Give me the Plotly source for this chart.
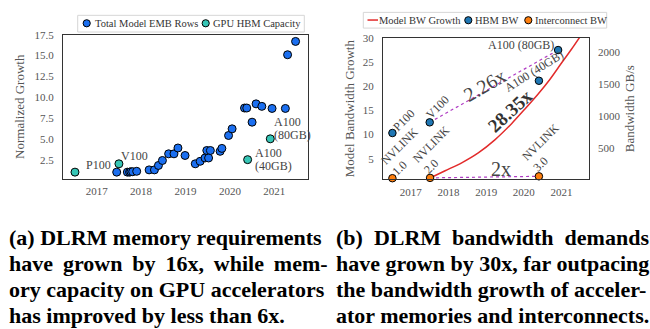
import plotly.graph_objects as go

# ---------------- data ----------------
# (a) embedding-table growth vs. GPU HBM capacity (normalized)
emb_year = [2017.45, 2017.69, 2017.74, 2017.77, 2017.81, 2017.90, 2018.18, 2018.30,
            2018.39, 2018.48, 2018.62, 2018.74, 2018.83, 2018.99, 2019.22, 2019.33,
            2019.44, 2019.48, 2019.52, 2019.56, 2019.78, 2019.82, 2019.97, 2020.05,
            2020.33, 2020.38, 2020.50, 2020.59, 2020.72, 2020.95, 2021.25, 2021.30,
            2021.48]
emb_rows = [1.0, 1.0, 1.0, 1.05, 1.05, 1.1, 1.27, 1.27,
            1.8, 2.4, 3.2, 3.2, 3.9, 3.0, 2.0, 2.3,
            2.7, 3.6, 2.7, 3.6, 3.5, 3.85, 5.4, 6.2,
            8.7, 8.7, 7.0, 9.2, 8.9, 8.65, 8.65, 15.1,
            16.7]
gpu_names = ["P100", "V100", "A100 (40GB)", "A100 (80GB)"]
gpu_year = [2016.51, 2017.50, 2020.40, 2020.91]
hbm_capacity = [1.0, 2.0, 2.5, 5.0]

# (b) bandwidth growth
model_year = [2017.51, 2017.91, 2018.35, 2018.79, 2019.23, 2019.68, 2020.03,
              2020.38, 2020.69, 2021.00, 2021.26, 2021.48]
model_bw_growth = [1.0, 2.5, 4.15, 6.2, 8.9, 12.3, 15.3,
                   18.4, 21.4, 24.8, 27.6, 30.1]
hbm_bw = [732, 900, 1555, 2039]            # GB/s, same GPUs as above
nvlink_names = ["NVLINK<br>1.0", "NVLINK<br>2.0", "NVLINK<br>3.0"]
nvlink_year = [2016.51, 2017.51, 2020.40]
nvlink_bw = [20, 25, 50]                   # GB/s per link

year_ticks = [2017, 2018, 2019, 2020, 2021]
growth_ticks = [2.5, 5.0, 7.5, 10.0, 12.5, 15.0, 17.5]
model_ticks = [5, 10, 15, 20, 25, 30]
bw_ticks = [500, 1000, 1500, 2000]

# ---------------- style ----------------
W, H = 650, 329
SERIF = "Liberation Serif"
TICK = dict(family=SERIF, size=11, color="#555555")
TITLE = dict(family=SERIF, size=13, color="#555555")
LABEL = dict(family=SERIF, size=12, color="#444444")
BLUE, TEAL = "#1b6ff0", "#36c6b6"
HBM_C, NVL_C, RED, PURPLE = "#1f77b4", "#ff7f0e", "#e22b2b", "#b03cc4"


def px(x):
    return x / W


def py(y):
    return 1 - y / H


fig = go.Figure()

# ---- (a) ----
fig.add_trace(go.Scatter(x=emb_year, y=emb_rows, mode="markers", xaxis="x", yaxis="y",
                         marker=dict(size=8, color=BLUE, line=dict(color="black", width=1)),
                         showlegend=False))
fig.add_trace(go.Scatter(x=gpu_year, y=hbm_capacity, mode="markers", xaxis="x", yaxis="y",
                         marker=dict(size=8, color=TEAL, line=dict(color="black", width=1)),
                         showlegend=False))

# ---- (b) ----
fig.add_trace(go.Scatter(x=model_year, y=model_bw_growth, mode="lines", xaxis="x2", yaxis="y2",
                         line=dict(color=RED, width=1.5, shape="spline", smoothing=0.8),
                         showlegend=False))
# dotted comparison lines (V100 -> A100 80GB, NVLINK 2.0 -> 3.0)
fig.add_trace(go.Scatter(x=[gpu_year[1], gpu_year[3]], y=[hbm_bw[1], hbm_bw[3]], mode="lines",
                         xaxis="x2", yaxis="y3", line=dict(color=PURPLE, width=1.2, dash="dot"),
                         showlegend=False))
fig.add_trace(go.Scatter(x=[nvlink_year[1], nvlink_year[2]], y=[nvlink_bw[1], nvlink_bw[2]],
                         mode="lines", xaxis="x2", yaxis="y3",
                         line=dict(color=PURPLE, width=1.2, dash="dot"), showlegend=False))
fig.add_trace(go.Scatter(x=gpu_year, y=hbm_bw, mode="markers", xaxis="x2", yaxis="y3",
                         marker=dict(size=7.5, color=HBM_C, line=dict(color="black", width=1)),
                         showlegend=False))
fig.add_trace(go.Scatter(x=nvlink_year, y=nvlink_bw, mode="markers", xaxis="x2", yaxis="y3",
                         marker=dict(size=7.5, color=NVL_C, line=dict(color="black", width=1)),
                         showlegend=False, cliponaxis=False))

ann = []

# point labels in (a)
ann += [
    dict(x=gpu_year[0], y=hbm_capacity[0], xref="x", yref="y", text="P100",
         xanchor="left", yanchor="middle", xshift=9, yshift=7.5),
    dict(x=gpu_year[1], y=hbm_capacity[1], xref="x", yref="y", text="V100",
         xanchor="left", yanchor="middle", xshift=0, yshift=8),
    dict(x=gpu_year[2], y=hbm_capacity[2], xref="x", yref="y", text="A100",
         xanchor="left", yanchor="middle", xshift=5.5, yshift=6.8),
    dict(x=gpu_year[2], y=hbm_capacity[2], xref="x", yref="y", text="(40GB)",
         xanchor="left", yanchor="middle", xshift=5.5, yshift=-6.8),
    dict(x=gpu_year[3], y=hbm_capacity[3], xref="x", yref="y", text="A100",
         xanchor="left", yanchor="middle", xshift=1.5, yshift=17),
    dict(x=gpu_year[3], y=hbm_capacity[3], xref="x", yref="y", text="(80GB)",
         xanchor="left", yanchor="middle", xshift=1.5, yshift=3.5),
]

# point labels in (b)
hbm_label_pos = [(11.5, 13.5, -45), (8, 15.5, -45), (-4.5, 9.5, -32)]
for i, (dx, dy, ang) in enumerate(hbm_label_pos):
    ann.append(dict(x=gpu_year[i], y=hbm_bw[i], xref="x2", yref="y3", text=gpu_names[i],
                    textangle=ang, xanchor="center", yanchor="middle", xshift=dx, yshift=dy))
ann.append(dict(x=gpu_year[3], y=hbm_bw[3], xref="x2", yref="y3", text=gpu_names[3],
                xanchor="right", yanchor="middle", xshift=-2, yshift=5.5))
nvl_label_pos = [(12.5, 26.5), (7, 27.5), (7, 28.5)]
for i, (dx, dy) in enumerate(nvl_label_pos):
    ann.append(dict(x=nvlink_year[i], y=nvlink_bw[i], xref="x2", yref="y3", text=nvlink_names[i],
                    textangle=-45, align="left", xanchor="center", yanchor="middle",
                    xshift=dx, yshift=dy))

# ratio labels
ann += [
    dict(x=(gpu_year[1] + gpu_year[3]) / 2, y=(hbm_bw[1] + hbm_bw[3]) / 2, xref="x2", yref="y3",
         text="2.26x", textangle=-30, xanchor="center", yanchor="middle", xshift=-9, yshift=1.5,
         font=dict(family=SERIF, size=20, color="#444444")),
    dict(x=2019.65, y=14.9, xref="x2", yref="y2", text="<b>28.35x</b>", textangle=-43,
         xanchor="center", yanchor="middle", font=dict(family=SERIF, size=19, color="#333333")),
    dict(x=2019.39, y=2.8, xref="x2", yref="y2", text="2x", xanchor="center", yanchor="middle",
         font=dict(family=SERIF, size=20, color="#444444")),
]
for a in ann:
    a.setdefault("font", LABEL)
    a["showarrow"] = False

# ---- hand-built legends ----
shapes = []
LEG = dict(family=SERIF, size=10.5, color="#333333")


def legend_box(x0, x1, y0, y1):
    shapes.append(dict(type="rect", xref="paper", yref="paper", x0=px(x0), x1=px(x1),
                       y0=py(y1), y1=py(y0), line=dict(color="#d6d6d6", width=1),
                       fillcolor="white", layer="above"))


def legend_dot(cx, cy, color, r=3.6):
    shapes.append(dict(type="circle", xref="paper", yref="paper", xsizemode="pixel",
                       ysizemode="pixel", xanchor=px(cx), yanchor=py(cy),
                       x0=-r, x1=r, y0=-r, y1=r, fillcolor=color,
                       line=dict(color="black", width=1), layer="above"))


def legend_text(x, y, text):
    ann.append(dict(x=px(x), y=py(y), xref="paper", yref="paper", text=text, showarrow=False,
                    xanchor="left", yanchor="middle", font=LEG))


legend_box(77.7, 304.3, 9.5, 26.5)
legend_dot(86.7, 17.6, BLUE)
legend_text(92.5, 17.6, "Total Model EMB Rows")
legend_dot(205.7, 17.6, TEAL)
legend_text(210.5, 17.6, "GPU HBM Capacity")

legend_box(363.3, 606.7, 6.5, 22.5)
shapes.append(dict(type="line", xref="paper", yref="paper", x0=px(367.5), x1=px(378),
                   y0=py(14.3), y1=py(14.3), line=dict(color=RED, width=1.5), layer="above"))
legend_text(376.5, 14.3, "Model BW Growth")
legend_dot(468.3, 14.5, HBM_C)
legend_text(472.8, 14.3, "HBM BW")
legend_dot(528.3, 14.5, NVL_C)
legend_text(532.8, 14.3, "Interconnect BW")

# ---- captions ----
CAP = dict(family=SERIF, size=22, color="black")
cap_a = ["(a) DLRM memory requirements",
         "have\u2009 grown\u2009 by\u2009 16x,\u2009 while\u2009 mem-",
         "ory capacity on GPU accelerators",
         "has improved by less than 6x."]
cap_b = ["(b)\u00a0 DLRM\u00a0 bandwidth\u00a0 demands",
         "have grown by 30x, far outpacing",
         "the bandwidth growth of acceler-",
         "ator memories and interconnects."]
cap_y = [236, 262.5, 289, 315.5]
for la, lb, yy in zip(cap_a, cap_b, cap_y):
    ann.append(dict(x=px(7), y=py(yy), xref="paper", yref="paper", text=f"<b>{la}</b>",
                    showarrow=False, xanchor="left", yanchor="middle", font=CAP))
    ann.append(dict(x=px(334), y=py(yy), xref="paper", yref="paper", text=f"<b>{lb}</b>",
                    showarrow=False, xanchor="left", yanchor="middle", font=CAP))

frame = dict(showline=True, mirror=True, linecolor="#333333", linewidth=1.2,
             showgrid=False, zeroline=False, ticks="", tickfont=TICK)

fig.update_layout(
    width=W, height=H, margin=dict(l=0, r=0, t=0, b=0),
    paper_bgcolor="white", plot_bgcolor="white", showlegend=False,
    xaxis=dict(domain=[px(63), px(308)], range=[2016.24, 2021.76], anchor="y",
               tickvals=year_ticks, ticklabelstandoff=2, **frame),
    yaxis=dict(domain=[py(176), py(29.3)], range=[0.2, 17.5], anchor="x",
               tickvals=growth_ticks, ticktext=[f"{v:.1f}" for v in growth_ticks],
               ticklabelstandoff=6, title=dict(text="Normalized Growth", font=TITLE, standoff=6),
               **frame),
    xaxis2=dict(domain=[px(383), px(589)], range=[2016.26, 2021.73], anchor="y2",
                tickvals=year_ticks, ticklabelstandoff=2, **frame),
    yaxis2=dict(domain=[py(176.7), py(32.5)], range=[0.7, 30], anchor="x2",
                tickvals=model_ticks, ticklabelstandoff=6,
                title=dict(text="Model Bandwidth Growth", font=TITLE, standoff=5), **frame),
    yaxis3=dict(overlaying="y2", side="right", anchor="x2", range=[0, 2230],
                tickvals=bw_ticks, showgrid=False, zeroline=False, showline=False, ticks="",
                tickfont=TICK, ticklabelstandoff=8,
                title=dict(text="Bandwidth GB/s", font=TITLE, standoff=5)),
    annotations=ann, shapes=shapes,
)

fig.write_html("out.html")
